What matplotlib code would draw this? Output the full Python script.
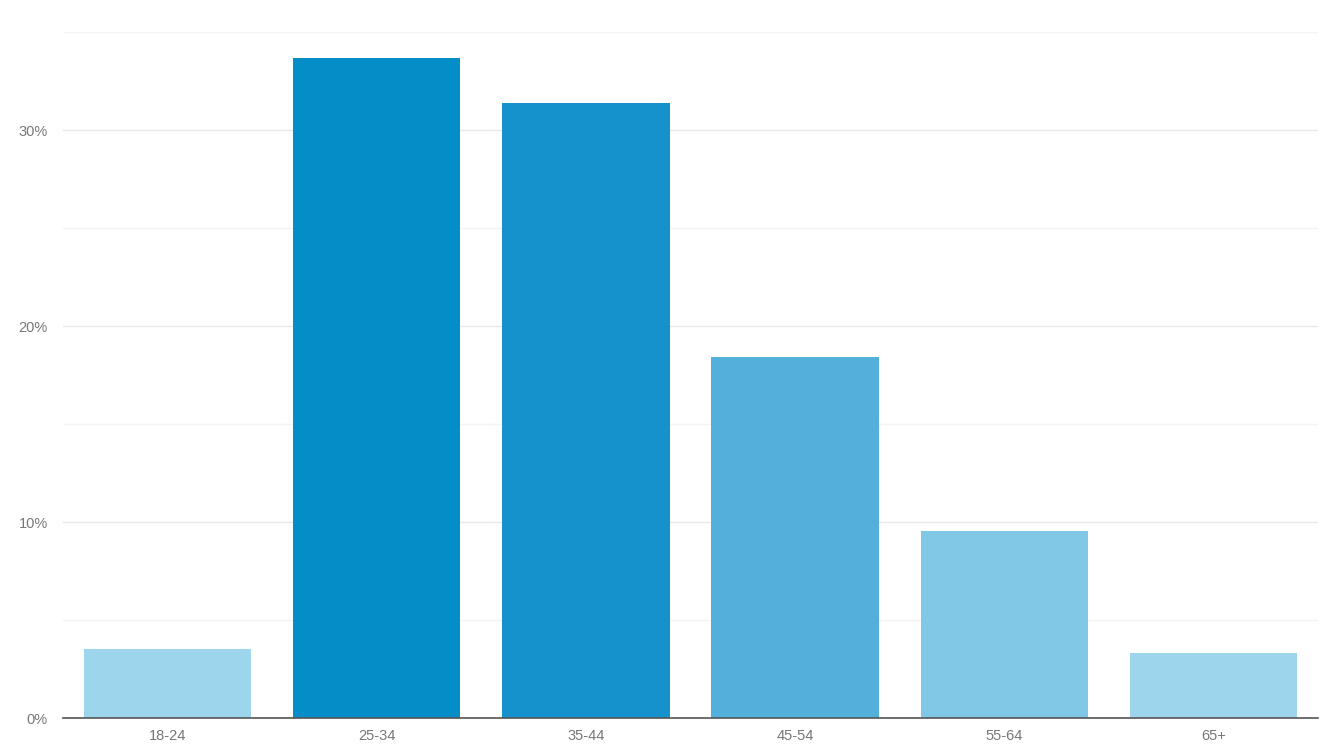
import numpy as np
import matplotlib.pyplot as plt
from matplotlib.ticker import FuncFormatter, MultipleLocator

plt.rcParams['font.family'] = ['Liberation Sans', 'DejaVu Sans']

age_groups = ['18-24', '25-34', '35-44', '45-54', '55-64', '65+']
share = [3.5, 33.7, 31.4, 18.4, 9.55, 3.3]
bar_colors = ['#9dd5ec', '#058dc7', '#1592cb', '#52b0db', '#80c8e6', '#9dd5ec']

fig = plt.figure(figsize=(13.28, 7.47), dpi=100)
ax = fig.add_axes([0.0474, 0.0388, 0.9451, 0.9182])

x = np.arange(len(age_groups))
ax.bar(x, share, width=0.8, color=bar_colors, zorder=3)

ax.set_xlim(-0.5, len(age_groups) - 0.5)
ax.set_ylim(0, 35)
ax.set_xticks(x)
ax.set_xticklabels(age_groups)
ax.yaxis.set_major_locator(MultipleLocator(10))
ax.yaxis.set_minor_locator(MultipleLocator(5))
ax.yaxis.set_major_formatter(FuncFormatter(lambda v, p: f'{v:.0f}%'))

ax.grid(axis='y', which='major', color='#e8e8e8', linewidth=1, zorder=0)
ax.grid(axis='y', which='minor', color='#f4f4f4', linewidth=1, zorder=0)

for s in ['top', 'right', 'left']:
    ax.spines[s].set_visible(False)
ax.spines['bottom'].set_color('#555555')
ax.spines['bottom'].set_linewidth(1.2)
ax.spines['bottom'].set_zorder(4)

ax.tick_params(axis='both', which='both', length=0, labelsize=10.5, labelcolor='#777777')
ax.tick_params(axis='y', pad=11)
ax.tick_params(axis='x', pad=8)

fig.savefig('out.png', dpi=100)
